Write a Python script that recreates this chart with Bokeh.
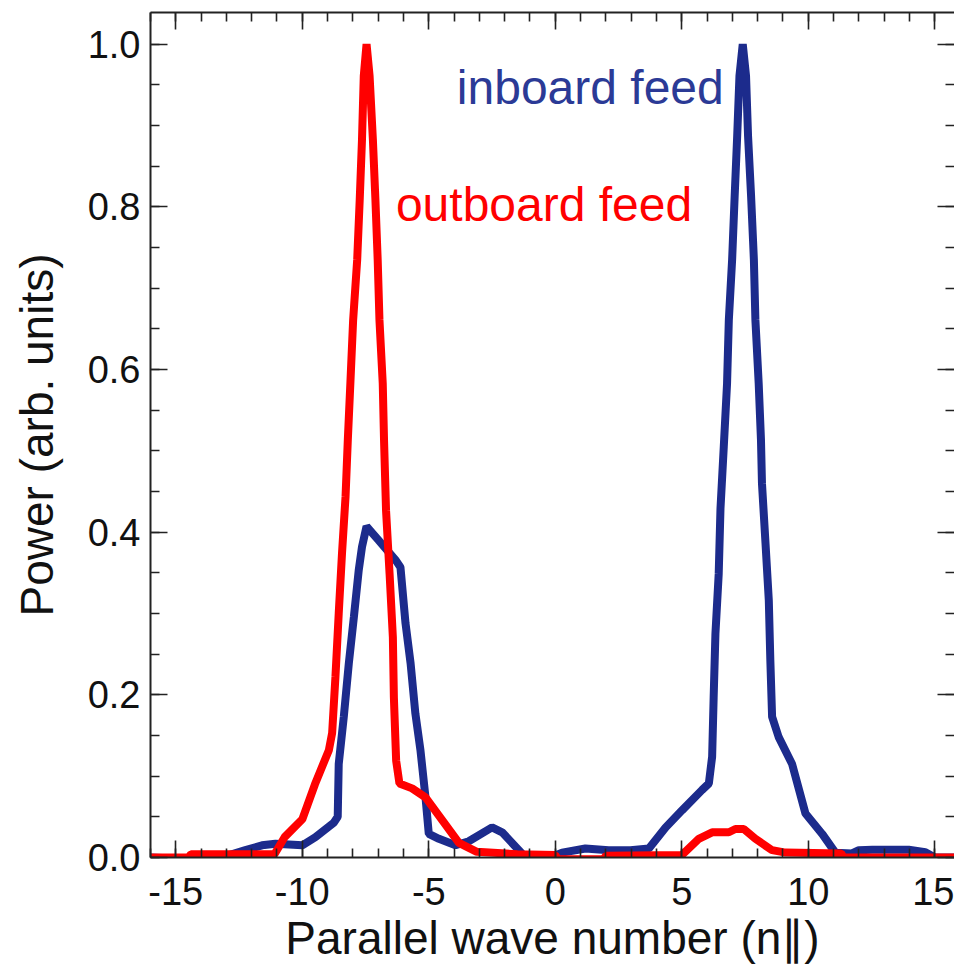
from bokeh.plotting import figure
from bokeh.models import LinearAxis, Range1d, FixedTicker, ColumnDataSource
from bokeh.embed import file_html
from bokeh.resources import INLINE
from bokeh.core.properties import value

# ---- data ----
outboard_x = [-16.0, -14.5, -14.4, -11.1, -10.7, -10.0, -9.5, -8.95, -8.82, -8.69, -8.56, -8.43,
              -8.29, -8.2, -8.1, -7.99, -7.83, -7.73, -7.64, -7.57, -7.46, -7.34, -7.21, -7.11,
              -7.02, -6.95, -6.82, -6.77, -6.69, -6.55, -6.42, -6.38, -6.29, -6.16, -5.66, -5.13,
              -4.47, -3.81, -3.1, -1.5, 0.0, 0.1, 1.9, 2.0, 5.0, 5.67, 6.2, 6.86, 7.12, 7.45,
              7.91, 8.57, 9.1, 11.3, 11.4, 16.0]
outboard_y = [0.0, 0.0, 0.004, 0.004, 0.025, 0.047, 0.090, 0.132, 0.153, 0.222, 0.300, 0.374,
              0.444, 0.514, 0.583, 0.661, 0.735, 0.809, 0.883, 0.961, 1.000, 0.961, 0.883, 0.809,
              0.735, 0.661, 0.583, 0.514, 0.427, 0.349, 0.271, 0.197, 0.119, 0.091, 0.085, 0.074,
              0.046, 0.018, 0.007, 0.004, 0.003, -0.002, -0.002, 0.002, 0.003, 0.023, 0.031, 0.031,
              0.035, 0.035, 0.023, 0.009, 0.006, 0.005, 0.0, 0.0]

inboard_x = [-16.0, -14.4, -13.4, -12.25, -11.59, -11.06, -10.0, -9.48, -8.75, -8.6, -8.56, -8.36,
             -8.16, -7.96, -7.77, -7.64, -7.46, -6.98, -6.32, -6.12, -5.92, -5.72, -5.53, -5.33,
             -5.13, -5.0, -4.6, -3.94, -3.42, -2.5, -2.1, -1.44, -1.18, -0.2, 0.27, 1.19, 2.11,
             2.97, 3.7, 4.36, 5.01, 5.8, 6.07, 6.2, 6.26, 6.33, 6.46, 6.53, 6.66, 6.79, 6.86,
             6.99, 7.09, 7.19, 7.28, 7.41, 7.54, 7.62, 7.74, 7.85, 7.91, 8.04, 8.13, 8.17, 8.31,
             8.44, 8.5, 8.57, 8.83, 9.36, 9.89, 10.55, 11.07, 11.73, 12.0, 12.53, 13.97, 14.63,
             15.0, 16.0]
inboard_y = [0.0, -0.002, -0.002, 0.009, 0.015, 0.017, 0.015, 0.025, 0.043, 0.050, 0.115, 0.173,
             0.239, 0.296, 0.353, 0.382, 0.407, 0.390, 0.366, 0.357, 0.288, 0.239, 0.177, 0.132,
             0.074, 0.029, 0.023, 0.015, 0.020, 0.037, 0.031, 0.009, 0.0, 0.0, 0.006, 0.011, 0.009,
             0.009, 0.011, 0.037, 0.058, 0.083, 0.091, 0.124, 0.197, 0.275, 0.349, 0.429, 0.505,
             0.583, 0.661, 0.735, 0.813, 0.887, 0.961, 1.000, 0.961, 0.887, 0.813, 0.735, 0.661,
             0.583, 0.514, 0.460, 0.386, 0.316, 0.243, 0.173, 0.148, 0.115, 0.054, 0.029, 0.006,
             0.005, 0.009, 0.0095, 0.0095, 0.0065, 0.0, 0.0]

x_major = [-15, -10, -5, 0, 5, 10, 15]
x_minor = list(range(-16, 17))
y_major = [0.0, 0.2, 0.4, 0.6, 0.8, 1.0]
y_minor = [i * 0.05 for i in range(21)]
x_tick_labels = {-15: "-15", -10: "-10", -5: "-5", 0: "0", 5: "5", 10: "10", 15: "15"}
y_tick_labels = {0.0: "0.0", 0.2: "0.2", 0.4: "0.4", 0.6: "0.6", 0.8: "0.8", 1.0: "1.0"}

annot_text = ["inboard feed", "outboard feed"]
annot_x = [-3.89, -6.3]
annot_y = [0.947, 0.803]
annot_color = ["#2b3a96", "#ff0000"]

BLUE = "#1c2b8c"
RED = "#ff0000"
FONT = "Liberation Sans"

p = figure(frame_width=804, frame_height=845,
           x_range=Range1d(-16, 15.78), y_range=Range1d(0, 1.039),
           output_backend="svg", toolbar_location=None,
           min_border_left=150, min_border_top=12, min_border_right=0, min_border_bottom=0)
p.outline_line_color = None
p.grid.visible = False
p.background_fill_color = "white"
p.border_fill_color = "white"

def style_axis(ax, ticks, minor, labels=None, line=True):
    ax.ticker = FixedTicker(ticks=ticks, minor_ticks=minor)
    ax.major_tick_in = 17
    ax.major_tick_out = 0
    ax.minor_tick_in = 9
    ax.minor_tick_out = 0
    ax.major_tick_line_width = 1.6
    ax.minor_tick_line_width = 1.6
    ax.major_tick_line_color = "#222222"
    ax.minor_tick_line_color = "#222222"
    if line:
        ax.axis_line_color = "#222222"
        ax.axis_line_width = 2
    else:
        ax.axis_line_color = None
    if labels is None:
        ax.major_label_text_font_size = "1px"
        ax.major_label_text_color = None
        ax.major_label_standoff = 0
    else:
        ax.major_label_overrides = labels
        ax.major_label_text_font = FONT
        ax.major_label_text_font_size = "38px"
        ax.major_label_text_color = "#111111"

xb = p.xaxis[0]
style_axis(xb, x_major, x_minor, x_tick_labels)
xb.major_label_standoff = 20
xb.axis_label = "Parallel wave number (n\u2225)"
xb.axis_label_text_font = FONT
xb.axis_label_text_font_size = "46px"
xb.axis_label_text_font_style = "normal"
xb.axis_label_text_color = "#111111"
xb.axis_label_standoff = 4

yl = p.yaxis[0]
style_axis(yl, y_major, y_minor, y_tick_labels)
yl.major_label_standoff = 10
yl.axis_label = "Power (arb. units)"
yl.axis_label_text_font = FONT
yl.axis_label_text_font_size = "46px"
yl.axis_label_text_font_style = "normal"
yl.axis_label_text_color = "#111111"
yl.axis_label_standoff = 22

xt = LinearAxis()
style_axis(xt, x_major, x_minor)
p.add_layout(xt, "above")
yr = LinearAxis()
style_axis(yr, y_major, y_minor, line=False)
p.add_layout(yr, "right")

src_in = ColumnDataSource(dict(x=inboard_x, y=inboard_y))
src_out = ColumnDataSource(dict(x=outboard_x, y=outboard_y))
p.line("x", "y", source=src_in, line_color=BLUE, line_width=8)
p.line("x", "y", source=src_out, line_color=RED, line_width=8)

src_t = ColumnDataSource(dict(x=annot_x, y=annot_y, text=annot_text, color=annot_color))
p.text("x", "y", text="text", source=src_t, text_color="color",
       text_font=value(FONT), text_font_size="48px",
       text_align="left", text_baseline="alphabetic")

open("out.html", "w").write(file_html(p, INLINE))
